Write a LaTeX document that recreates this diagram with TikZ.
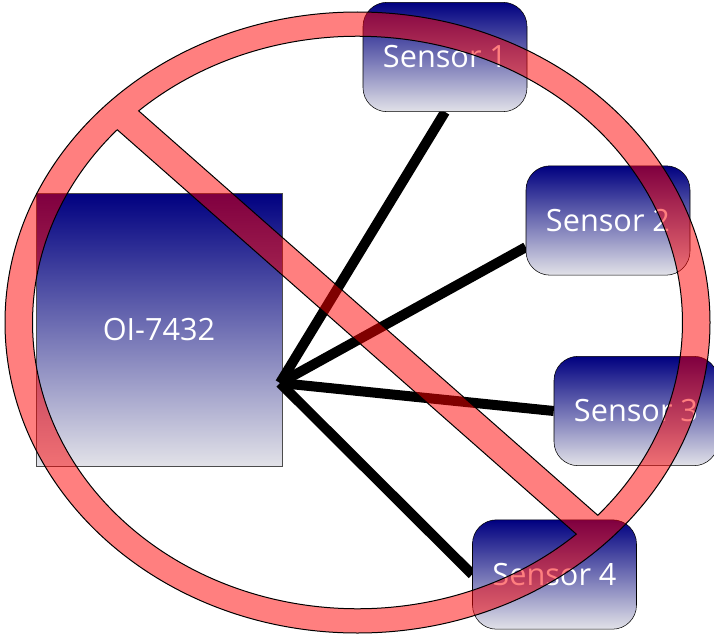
\documentclass[tikz,border=0pt]{standalone}
\usepackage{fontspec}
\setmainfont{Open Sans}
\usepackage{tikz}
\usetikzlibrary{positioning, calc}
\definecolor{topnavy}{RGB}{0,0,128}
\definecolor{bottomgrey}{RGB}{226,226,232}
\pgfdeclarelayer{bg}
\pgfdeclarelayer{wire}
\pgfsetlayers{bg,wire,main}
\tikzset{
    oibox/.style={draw=black!70, top color=topnavy, bottom color=bottomgrey, text=white, minimum width=184.5pt, minimum height=204.75pt, font=\fontsize{23}{27}\selectfont},
    sensorbox/.style={draw=black, top color=topnavy, bottom color=bottomgrey, rounded corners=18pt, text=white, minimum width=123pt, minimum height=82pt, font=\fontsize{23}{27}\selectfont},
    link/.style={line width=7.5pt, black},
    nosign/.style={draw=black, line width=0.75pt, fill=red, fill opacity=0.5, even odd rule},
}

\begin{document}
\begin{tikzpicture}[x=0.75pt, y=-0.75pt]
\useasboundingbox (0,0) rectangle (714,635);
% boxes
\begin{pgfonlayer}{bg}
\node[oibox] (oi) at (159,329.5) {OI-7432};
\end{pgfonlayer}
\node[sensorbox] (s1) at (445,57) {Sensor 1};
\node[sensorbox] (s2) at (608,220.5) {Sensor 2};
\node[sensorbox] (s3) at (636,411) {Sensor 3};
\node[sensorbox] (s4) at (554.5,574.5) {Sensor 4};
% links
\coordinate (hub) at (280,383);
\coordinate (s2in) at ([yshift=-20pt]s2.west);
\begin{pgfonlayer}{wire}
\draw[link] (hub) -- (s1.south);
\draw[link] (hub) -- (s2in);
\draw[link] (hub) -- (s3.west);
\draw[link] (hub) -- (s4.west);
\end{pgfonlayer}
% no sign
\begin{scope}[shift={(357.5,322.5)}, xscale=352.5, yscale=310.5]
\path[nosign] (0,0) circle[radius=1]
  (47.67:0.922) arc[start angle=47.67, end angle=222.33, radius=0.922] -- cycle
  (227.67:0.922) arc[start angle=227.67, end angle=402.33, radius=0.922] -- cycle;
\end{scope}
\end{tikzpicture}
\end{document}
